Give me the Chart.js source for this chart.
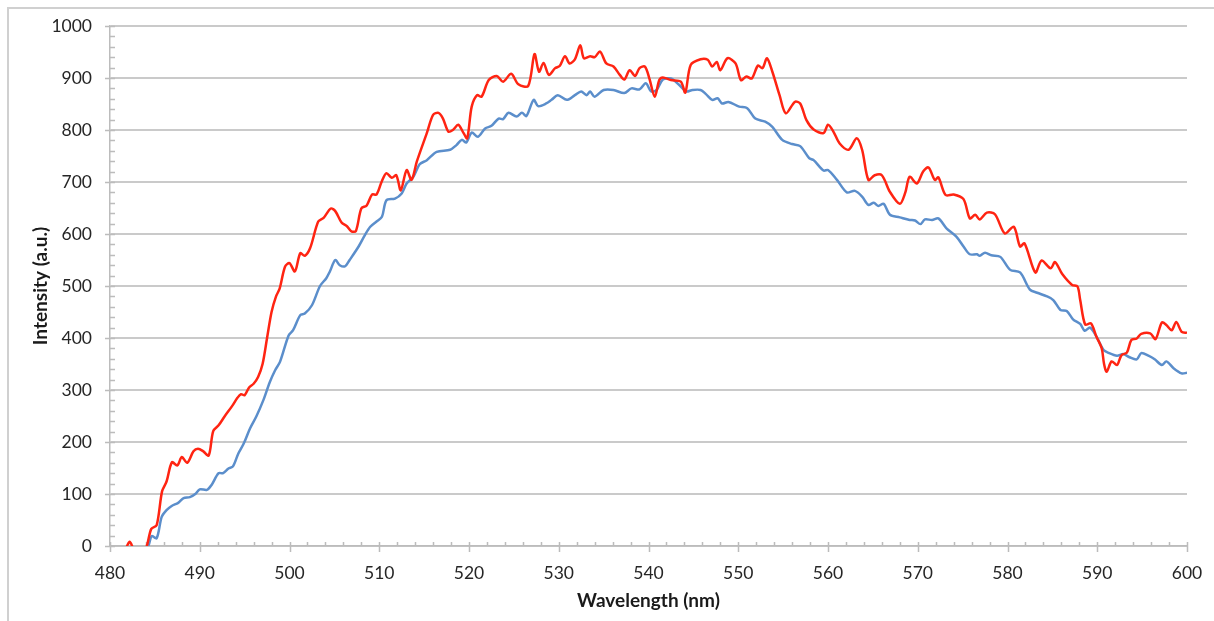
<!DOCTYPE html>
<html>
<head>
<meta charset="utf-8">
<script src="https://cdn.jsdelivr.net/npm/chart.js@4/dist/chart.umd.min.js"></script>
<style>
  html, body { margin: 0; padding: 0; background: #fff; }
  #wrap { width: 1214px; height: 621px; }
</style>
</head>
<body>
<div id="wrap"><canvas id="spectrum"></canvas></div>
<script>
// axis ranges
const xMin = 480, xMax = 600, xMajor = 10, xMinor = 2;
const yMin = 0, yMax = 1000, yMajor = 100, yMinor = 20;

// red trace
const redWavelength = [480, 481, 481.8, 482.2, 482.6, 483.3, 484.1, 484.6, 485.2, 485.8, 486.3, 486.9, 487.5, 488, 488.6, 489.3, 489.8, 490.4, 491, 491.5, 492.1, 492.8, 493.6, 494.2, 494.6, 495, 495.5, 496, 496.5, 497, 497.5, 498, 498.5, 498.9, 499.5, 500, 500.6, 501.2, 501.7, 502.3, 503.2, 503.8, 504.6, 505.1, 505.8, 506.4, 506.9, 507.4, 508, 508.6, 509.2, 509.7, 510.3, 510.8, 511.4, 511.9, 512.4, 513.05, 513.6, 514.2, 515.3, 516, 516.6, 517.1, 517.7, 518.2, 518.8, 519.4, 519.8, 520.3, 520.9, 521.4, 522.2, 523.1, 523.8, 524.7, 525.5, 526.6, 527.3, 527.8, 528.3, 528.9, 529.6, 530.1, 530.7, 531.2, 531.8, 532.4, 532.8, 533.5, 534, 534.6, 535.3, 536.1, 536.8, 537.3, 537.9, 538.5, 539, 539.6, 540.1, 540.7, 541.2, 541.6, 542.5, 543.6, 544.1, 544.7, 545.8, 546.6, 547.1, 547.6, 548, 548.8, 549.7, 550.3, 550.9, 551.5, 552.2, 552.7, 553.2, 553.8, 554.6, 555.3, 556.3, 556.9, 557.6, 558.4, 559.5, 560, 560.6, 561.3, 562.3, 563.2, 563.8, 564.5, 565.2, 566, 566.9, 568, 568.6, 569.1, 569.9, 570.6, 571.2, 571.9, 572.3, 573.1, 574, 575.1, 575.8, 576.4, 576.9, 577.7, 578.6, 579.7, 580.7, 581.4, 581.9, 583.1, 583.8, 584.8, 585.3, 586.1, 587.2, 587.8, 588.1, 588.65, 589.3, 589.9, 590.5, 590.75, 591.05, 591.6, 592.2, 592.7, 593.3, 593.8, 594.4, 594.9, 595.9, 596.5, 597.2, 597.7, 598.3, 598.8, 599.4, 600];
const redIntensity = [-60, -40, -4, 8, -6, -30, 0, 33, 40, 105, 124, 161, 155, 171, 160, 182, 187, 182, 174, 221, 232, 250, 269, 285, 292, 290, 305, 312, 325, 350, 400, 450, 480, 495, 537, 544, 528, 563, 558, 573, 624, 631, 649, 644, 622, 615, 605, 606, 649, 655, 676, 676, 702, 717, 708, 713, 684, 723, 704, 740, 794, 829, 833, 822, 797, 800, 810, 794, 784, 845, 867, 864, 896, 904, 893, 908, 888, 885, 946, 912, 929, 906, 919, 923, 942, 928, 936, 963, 938, 942, 940, 951, 928, 922, 906, 897, 915, 904, 919, 922, 899, 864, 896, 901, 896, 893, 872, 925, 936, 935, 922, 931, 915, 938, 928, 896, 903, 899, 924, 919, 938, 912, 867, 832, 854, 851, 819, 801, 794, 810, 797, 774, 762, 784, 762, 704, 713, 713, 681, 658, 679, 710, 697, 720, 728, 704, 709, 675, 676, 667, 630, 637, 628, 641, 638, 601, 614, 576, 582, 526, 549, 534, 546, 523, 502, 499, 473, 426, 428, 403, 380, 351, 335, 355, 348, 367, 372, 396, 399, 408, 409, 398, 430, 425, 415, 431, 412, 410];

// blue trace
const blueWavelength = [480, 483.5, 484.27, 484.64, 485.2, 485.76, 486.3, 486.87, 487.6, 488.2, 488.9, 489.5, 490, 490.8, 491.3, 492.1, 492.6, 493.2, 493.7, 494.3, 494.9, 495.6, 496.3, 497.1, 497.8, 498.4, 498.94, 499.9, 500.4, 501.2, 501.7, 502.5, 503.4, 504.1, 504.5, 505.1, 505.6, 506.2, 506.7, 507.7, 508.4, 509, 509.7, 510.3, 510.8, 511.75, 512.5, 513.05, 513.8, 514.5, 515.3, 516.4, 517.9, 518.6, 519.2, 519.7, 520.3, 521, 521.8, 522.5, 523.3, 523.8, 524.4, 525.3, 525.9, 526.4, 527.2, 527.7, 528.6, 529.2, 529.9, 530.9, 531.8, 532.5, 533.1, 533.5, 534, 535, 536.1, 537.3, 538.1, 539, 539.7, 540.3, 540.9, 541.6, 542.5, 543.4, 544.2, 544.9, 545.8, 546.4, 547.1, 547.7, 548.2, 548.9, 550.1, 551, 551.9, 553, 553.8, 554.9, 556, 556.9, 557.9, 558.4, 559.5, 560, 561, 562.1, 563, 563.8, 564.5, 565.1, 565.6, 566.2, 566.9, 568, 569.1, 569.7, 570.3, 570.8, 571.6, 572.3, 573.2, 574.3, 575.1, 575.8, 576.6, 576.9, 577.5, 578.2, 579.2, 580.3, 581.4, 582.5, 583.3, 584.4, 585.1, 585.9, 586.6, 587.3, 588.1, 588.6, 589.2, 589.9, 590.7, 591.2, 592.2, 592.9, 593.6, 594.4, 594.9, 595.7, 596.4, 597.2, 597.7, 598.5, 599.4, 600];
const blueIntensity = [-80, -20, 0, 19, 15, 56, 69, 77, 83, 92, 94, 100, 109, 108, 117, 140, 140, 149, 153, 178, 197, 226, 249, 281, 315, 338, 354, 405, 415, 444, 447, 463, 500, 515, 528, 550, 540, 538, 550, 576, 598, 614, 624, 633, 665, 668, 678, 697, 710, 734, 742, 758, 762, 771, 781, 776, 795, 787, 803, 808, 822, 821, 833, 826, 833, 827, 858, 846, 851, 858, 867, 858, 867, 874, 867, 874, 864, 877, 877, 871, 880, 878, 890, 874, 877, 897, 899, 887, 874, 877, 877, 869, 858, 861, 851, 854, 845, 842, 822, 816, 806, 781, 773, 769, 746, 742, 722, 723, 704, 680, 683, 672, 656, 660, 654, 658, 637, 632, 627, 626, 619, 628, 627, 630, 611, 595, 576, 561, 561, 558, 564, 559, 556, 531, 526, 493, 487, 480, 473, 454, 452, 436, 427, 414, 420, 403, 377, 372, 366, 369, 363, 359, 371, 366, 359, 348, 355, 342, 332, 333];

const toPoints = (xs, ys) => xs.map((v, i) => ({ x: v, y: ys[i] }));

// white background + light frame around the whole picture
const frame = {
  id: 'frame',
  beforeDraw(chart) {
    const ctx = chart.ctx;
    ctx.save();
    ctx.fillStyle = '#ffffff';
    ctx.fillRect(0, 0, chart.width, chart.height);
    ctx.strokeStyle = '#d0d0d0';
    ctx.lineWidth = 2;
    ctx.strokeRect(8, 8, chart.width + 20, chart.height + 20);
    ctx.restore();
  }
};

// Excel style major / minor tick marks
const tickMarks = {
  id: 'tickMarks',
  beforeDatasetsDraw(chart) {
    const { ctx, scales: { x, y }, chartArea: a } = chart;
    ctx.save();
    ctx.strokeStyle = '#bcbcbc';
    ctx.lineWidth = 1.5;
    ctx.beginPath();
    for (let v = xMin; v <= xMax; v += xMinor) {
      const px = Math.round(x.getPixelForValue(v)) + 0.5;
      const major = v % xMajor === 0;
      ctx.moveTo(px, a.bottom - 4);
      ctx.lineTo(px, a.bottom + (major ? 6 : 0));
    }
    for (let v = yMin; v <= yMax; v += yMinor) {
      const py = Math.round(y.getPixelForValue(v)) + 0.5;
      const major = v % yMajor === 0;
      ctx.moveTo(a.left - (major ? 5 : 0), py);
      ctx.lineTo(a.left + 5, py);
    }
    ctx.stroke();
    ctx.restore();
  }
};

const tickFont = { family: 'Lato', size: 17.5 };
const titleFont = { family: 'Lato', size: 19, weight: 'bold' };
const plain = v => String(v);

new Chart(document.getElementById('spectrum'), {
  type: 'line',
  data: {
    datasets: [
      {
        label: 'red',
        data: toPoints(redWavelength, redIntensity),
        borderColor: '#ff2412',
        borderWidth: 2.5,
        pointRadius: 0,
        tension: 0.3,
        fill: false
      },
      {
        label: 'blue',
        data: toPoints(blueWavelength, blueIntensity),
        borderColor: '#5b8ecb',
        borderWidth: 2.5,
        pointRadius: 0,
        tension: 0.3,
        fill: false
      }
    ]
  },
  options: {
    responsive: true,
    maintainAspectRatio: false,
    animation: false,
    layout: { padding: { left: 0, right: 27, top: 26, bottom: 0 } },
    plugins: {
      legend: { display: false },
      tooltip: { enabled: false }
    },
    scales: {
      x: {
        type: 'linear',
        min: xMin,
        max: xMax,
        afterFit: s => { s.height = 75; s.paddingLeft = 0; s.paddingRight = 0; },
        ticks: { stepSize: xMajor, padding: 17, color: '#262626', font: tickFont, callback: plain },
        grid: { drawOnChartArea: false, drawTicks: false },
        border: { color: '#bcbcbc', width: 1.5 },
        title: {
          display: true,
          text: 'Wavelength (nm)',
          color: '#1a1a1a',
          font: titleFont,
          padding: { top: 0, bottom: 9 }
        }
      },
      y: {
        min: yMin,
        max: yMax,
        afterFit: s => { s.width = 110; s.paddingTop = 0; s.paddingBottom = 0; },
        ticks: { stepSize: yMajor, padding: 18, color: '#262626', font: tickFont, callback: plain },
        grid: { color: '#cacaca', lineWidth: 2, drawTicks: false },
        border: { color: '#bcbcbc', width: 1.5 },
        title: {
          display: true,
          text: 'Intensity (a.u.)',
          color: '#1a1a1a',
          font: titleFont,
          padding: { top: 29, bottom: 0 }
        }
      }
    }
  },
  plugins: [frame, tickMarks]
});
</script>
</body>
</html>
